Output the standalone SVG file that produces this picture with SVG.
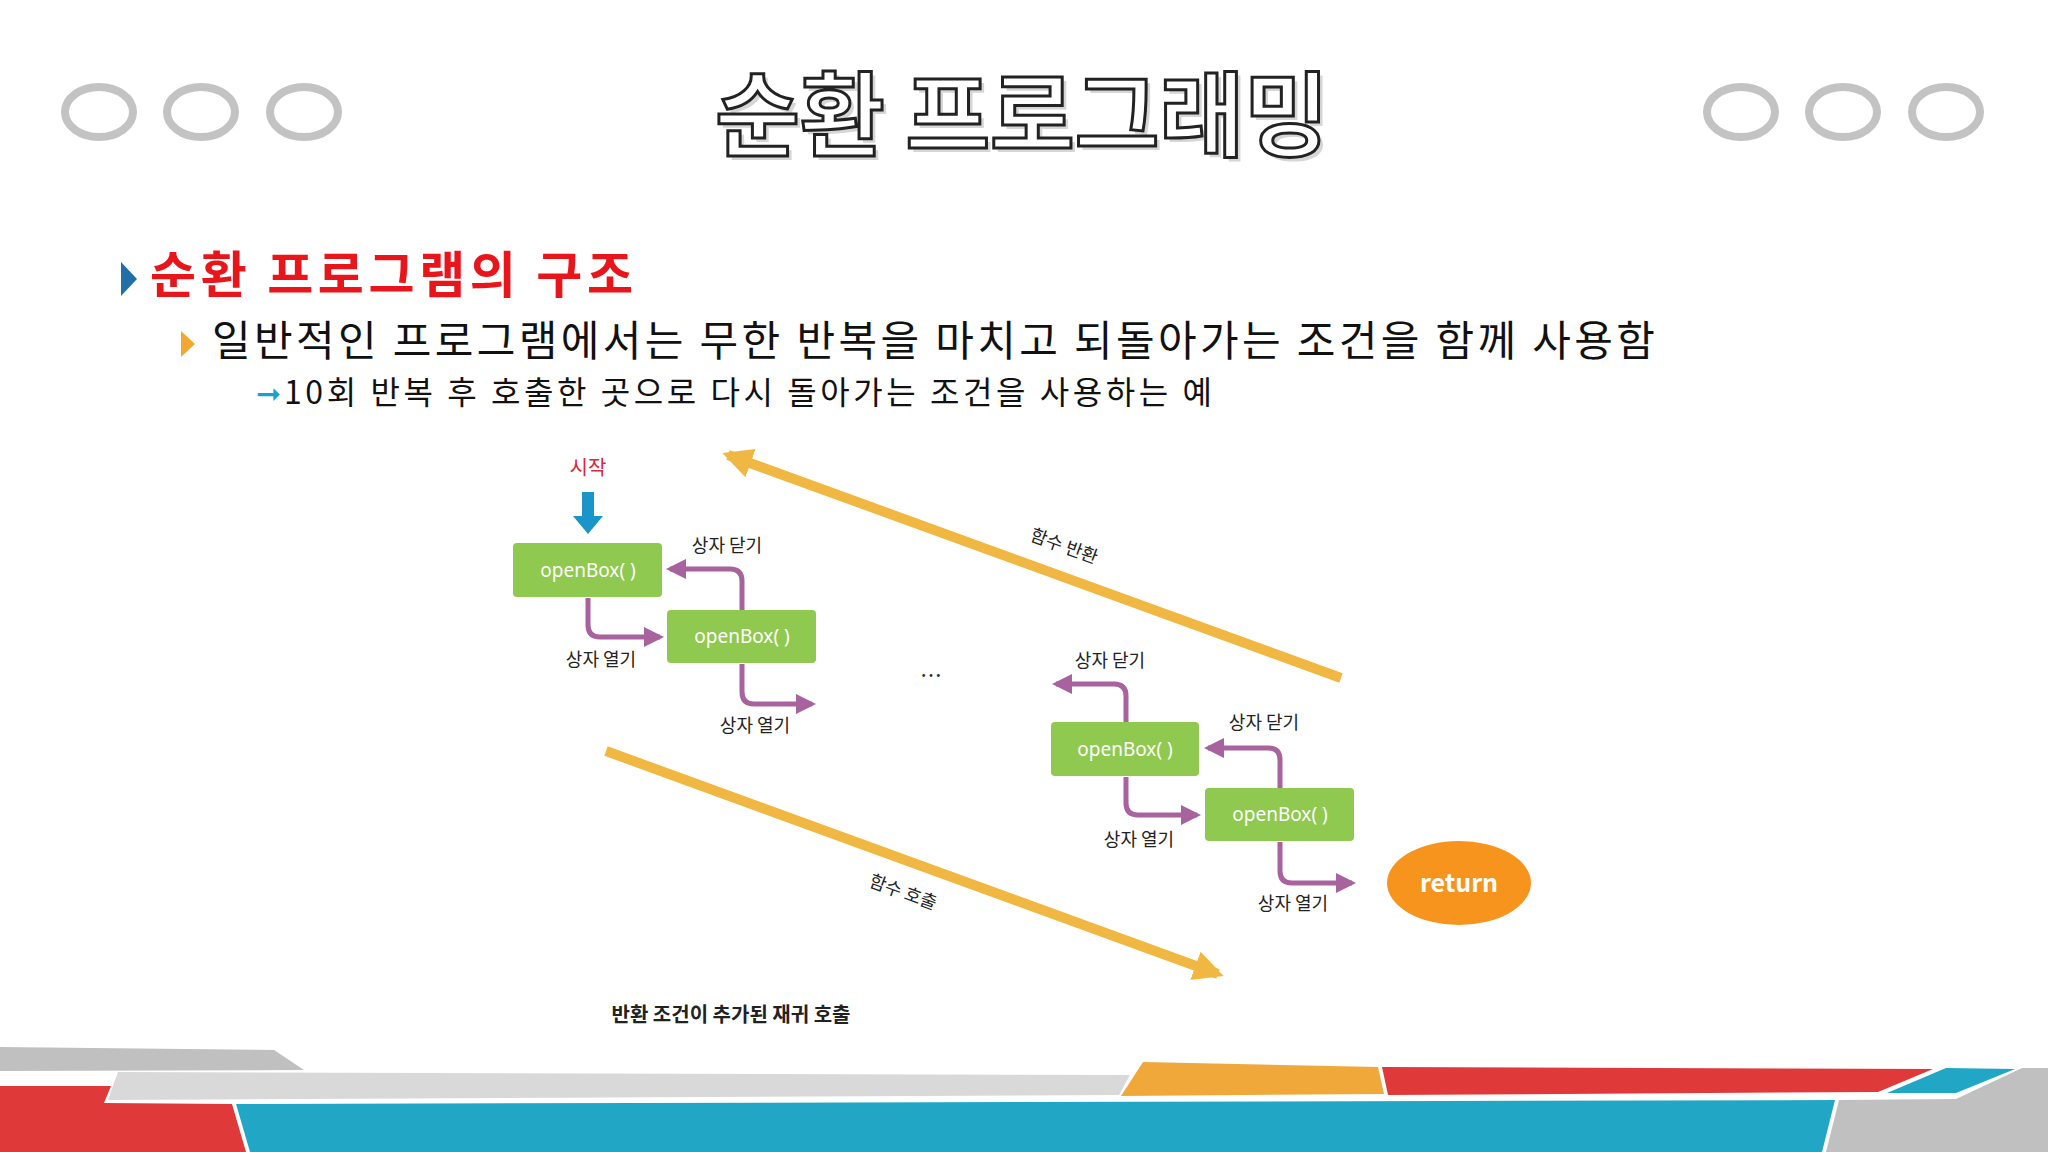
<svg xmlns="http://www.w3.org/2000/svg" width="2048" height="1152" viewBox="0 0 2048 1152">
<defs>
<style>
text{font-family:"Noto Sans CJK KR","Noto Sans",sans-serif}
.ring{fill:none;stroke:#c3c3c3;stroke-width:8}
.box{fill:#8fc94f}
.bt{fill:#fff;font-size:19px;text-anchor:middle;font-family:"Noto Sans","Noto Sans CJK KR",sans-serif}
.lbl{fill:#222;font-size:18px;text-anchor:middle}
.pc{fill:none;stroke:#a8629e;stroke-width:5}
.yl{stroke:#f0b843;stroke-width:10}
</style>
<marker id="ph" viewBox="0 0 10 10" refX="8" refY="5" markerWidth="4" markerHeight="4" orient="auto" markerUnits="strokeWidth"><path d="M0,0L10,5L0,10z" fill="#a8629e"/></marker>
<marker id="yh" viewBox="0 0 10 10" refX="8" refY="5" markerWidth="3" markerHeight="3" orient="auto" markerUnits="strokeWidth"><path d="M0,0L10,5L0,10z" fill="#f0b843"/></marker>
</defs>
<rect width="2048" height="1152" fill="#fff"/>
<g id="header">
<ellipse class="ring" cx="99" cy="112" rx="34" ry="25"/><ellipse class="ring" cx="201" cy="112" rx="34" ry="25"/><ellipse class="ring" cx="304" cy="112" rx="34" ry="25"/>
<ellipse class="ring" cx="1741" cy="112" rx="34" ry="25"/><ellipse class="ring" cx="1843" cy="112" rx="34" ry="25"/><ellipse class="ring" cx="1946" cy="112" rx="34" ry="25"/>
<text x="1026" y="153" font-size="92" font-weight="bold" text-anchor="middle" fill="#bbb" opacity="0.6">순환 프로그래밍</text>
<text x="1022" y="149" font-size="92" font-weight="bold" text-anchor="middle" fill="#fff" stroke="#222" stroke-width="3">순환 프로그래밍</text>
</g>
<g id="bullets">
<polygon points="121,262 137,279 121,296" fill="#1f6fa8"/>
<text x="150" y="293" font-size="50" font-weight="bold" fill="#e8161b" textLength="483">순환 프로그램의 구조</text>
<polygon points="181,331 195,344 181,357" fill="#f0a830"/>
<text x="212" y="356" font-size="42" fill="#111" textLength="1443">일반적인 프로그램에서는 무한 반복을 마치고 되돌아가는 조건을 함께 사용함</text>
<text x="256" y="404" font-size="30" fill="#1aa0d0">➞</text>
<text x="284" y="404" font-size="32" fill="#111" textLength="928">10회 반복 후 호출한 곳으로 다시 돌아가는 조건을 사용하는 예</text>
</g>
<g id="connectors">
<line class="yl" x1="1341" y1="678" x2="728" y2="455" marker-end="url(#yh)"/>
<line class="yl" x1="606" y1="751" x2="1218" y2="974" marker-end="url(#yh)"/>
<path d="M588,492V518" stroke="#1b95c9" stroke-width="12"/>
<polygon points="573,516 603,516 588,534" fill="#1b95c9"/>
<path class="pc" d="M588,598V625Q588,637 600,637H660" marker-end="url(#ph)"/>
<path class="pc" d="M742,610V581Q742,569 730,569H670" marker-end="url(#ph)"/>
<path class="pc" d="M742,664V692Q742,704 754,704H812" marker-end="url(#ph)"/>
<path class="pc" d="M1126,722V696Q1126,684 1114,684H1056" marker-end="url(#ph)"/>
<path class="pc" d="M1126,777V803Q1126,815 1138,815H1197" marker-end="url(#ph)"/>
<path class="pc" d="M1280,788V760Q1280,748 1268,748H1208" marker-end="url(#ph)"/>
<path class="pc" d="M1280,842V871Q1280,883 1292,883H1352" marker-end="url(#ph)"/>
</g>
<g id="start"><text x="588" y="475" font-size="20" fill="#d8283a" text-anchor="middle">시작</text></g>
<g id="box1"><rect class="box" x="513" y="543" width="149" height="54" rx="4"/><text class="bt" x="588" y="577">openBox( )</text></g>
<g id="box2"><rect class="box" x="667" y="610" width="149" height="53" rx="4"/><text class="bt" x="742" y="643">openBox( )</text></g>
<g id="box3"><rect class="box" x="1051" y="722" width="148" height="54" rx="4"/><text class="bt" x="1125" y="756">openBox( )</text></g>
<g id="box4"><rect class="box" x="1205" y="788" width="149" height="53" rx="4"/><text class="bt" x="1280" y="821">openBox( )</text></g>
<g id="return"><ellipse cx="1459" cy="883" rx="72" ry="42" fill="#f7941d"/><text x="1459" y="892" font-size="25" font-weight="bold" fill="#fff" text-anchor="middle" font-family="Noto Sans,sans-serif">return</text></g>
<g id="labels">
<text class="lbl" x="727" y="552">상자 닫기</text>
<text class="lbl" x="601" y="666">상자 열기</text>
<text class="lbl" x="755" y="732">상자 열기</text>
<text x="931" y="683" font-size="22" fill="#333" text-anchor="middle">…</text>
<text class="lbl" x="1110" y="667">상자 닫기</text>
<text class="lbl" x="1264" y="729">상자 닫기</text>
<text class="lbl" x="1139" y="846">상자 열기</text>
<text class="lbl" x="1293" y="910">상자 열기</text>
<text class="lbl" font-size="22" transform="translate(1062,552) rotate(20)">함수 반환</text>
<text class="lbl" font-size="22" transform="translate(901,898) rotate(20)">함수 호출</text>
<text x="731" y="1022" font-size="20" fill="#222" text-anchor="middle" font-weight="bold">반환 조건이 추가된 재귀 호출</text>
</g>
<g id="footer">
<polygon points="0,1047 274,1050 304,1070 0,1071" fill="#c0c0c0"/>
<polygon points="118,1072 1130,1075 1119,1095 108,1100" fill="#d9d9d9"/>
<polygon points="1143,1062 1378,1067 1384,1094 1121,1096" fill="#f0a83a"/>
<polygon points="1382,1067 1933,1069 1878,1092 1388,1095" fill="#e0393a"/>
<polygon points="1946,1068 2015,1069 1956,1093 1887,1093" fill="#22a6c6"/>
<polygon points="2022,1068 2048,1068 2048,1152 1826,1152 1839,1100 1956,1099" fill="#c0c0c0"/>
<polygon points="0,1086 111,1086 104,1103 232,1104 246,1152 0,1152" fill="#e0393a"/>
<polygon points="236,1104 1835,1100 1822,1152 250,1152" fill="#22a6c6"/>
</g>
</svg>
